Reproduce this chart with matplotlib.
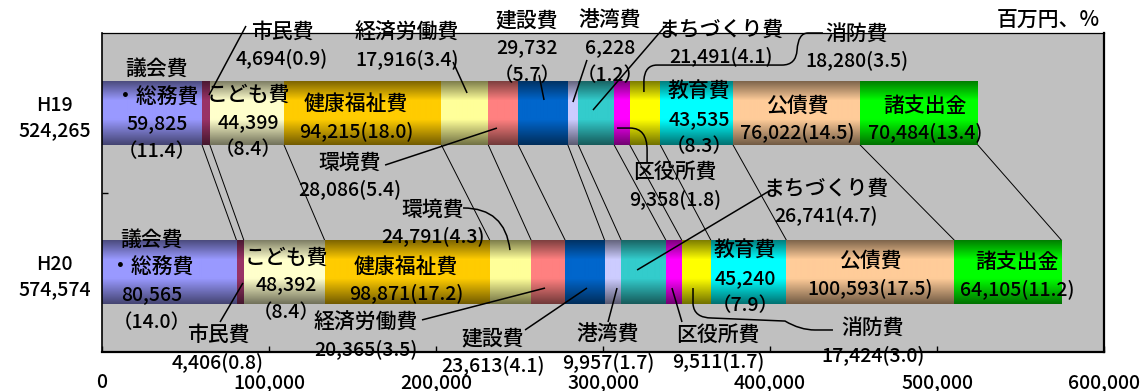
import numpy as np
import matplotlib.pyplot as plt
from matplotlib.path import Path
from matplotlib.patches import PathPatch
from matplotlib.colors import to_rgb

plt.rcParams['font.family'] = ['Noto Sans CJK JP', 'DejaVu Sans']
plt.rcParams['font.size'] = 14
plt.rcParams['font.weight'] = 'medium'

# 費目（左から積み上げる順）
items = ['議会費・総務費', '市民費', 'こども費', '健康福祉費', '環境費', '経済労働費', '建設費',
         '港湾費', 'まちづくり費', '区役所費', '消防費', '教育費', '公債費', '諸支出金']
years = ['H19', 'H20']

# 歳出額（百万円）
h19 = [59825, 4694, 44399, 94215, 28086, 17916, 29732, 6228, 21491, 9358, 18280, 43535, 76022, 70484]
h20 = [80565, 4406, 48392, 98871, 24791, 20365, 23613, 9957, 26741, 9511, 17424, 45240, 100593, 64105]

# 構成比（%）
h19_pct = [11.4, 0.9, 8.4, 18.0, 5.4, 3.4, 5.7, 1.2, 4.1, 1.8, 3.5, 8.3, 14.5, 13.4]
h20_pct = [14.0, 0.8, 8.4, 17.2, 4.3, 3.5, 4.1, 1.7, 4.7, 1.7, 3.0, 7.9, 17.5, 11.2]

colors = ['#9999ff', '#993366', '#ffffcc', '#ffcc00', '#ffff99', '#ff8080', '#0066cc',
          '#ccccff', '#33cccc', '#ff00ff', '#ffff00', '#00ffff', '#ffcc99', '#00ff00']

# ラベル位置 (x, y, 形式)  a: 名称 / 金額(比率)  b: 名称 / 金額 / （比率）
lab19 = {0: (32900, 1.017, 'b'), 1: (107800, 1.422, 'a'), 2: (87700, 0.939, 'b'),
         3: (152100, 0.967, 'a'), 4: (148500, 0.600, 'a'), 5: (182600, 1.415, 'a'),
         6: (254500, 1.406, 'b'), 7: (304200, 1.406, 'b'), 8: (370700, 1.437, 'a'),
         9: (343100, 0.541, 'a'), 10: (452100, 1.409, 'a'), 11: (357500, 0.958, 'b'),
         12: (416200, 0.958, 'a'), 13: (492800, 0.958, 'a')}
lab20 = {0: (29900, -0.055, 'b'), 1: (69500, -0.481, 'a'), 2: (110200, -0.080, 'b'),
         3: (182000, -0.049, 'a'), 4: (198200, 0.306, 'a'), 5: (158100, -0.403, 'a'),
         6: (234100, -0.503, 'a'), 7: (303000, -0.481, 'a'), 8: (433500, 0.440, 'a'),
         9: (368900, -0.478, 'a'), 10: (461700, -0.437, 'a'), 11: (385000, -0.039, 'b'),
         12: (459900, -0.017, 'a'), 13: (547900, -0.024, 'a')}

# 引き出し線 ('M'/'L', 点) または ('Q', 制御点, 終点)
leaders = [
    [('M', (86200, 1.544)), ('L', (64100, 1.111))],
    [('M', (169500, 0.672)), ('L', (236500, 0.904))],
    [('M', (210200, 1.318)), ('L', (218600, 1.124))],
    [('M', (261700, 1.237)), ('L', (264700, 1.080))],
    [('M', (290400, 1.331)), ('L', (282000, 1.067))],
    [('M', (338300, 1.556)), ('L', (294000, 1.017))],
    [('M', (308400, 0.904)), ('L', (316200, 0.904)), ('Q', (326400, 0.904), (326400, 0.766)),
     ('L', (326400, 0.691))],
    [('M', (431700, 1.500)), ('L', (422800, 1.500)), ('Q', (416800, 1.500), (416200, 1.393)),
     ('Q', (415600, 1.299), (407200, 1.299)), ('L', (332300, 1.299)),
     ('Q', (325100, 1.299), (324500, 1.205)), ('L', (324500, 1.130))],
    # H20
    [('M', (70700, -0.312)), ('L', (84400, -0.067))],
    [('M', (216200, 0.403)), ('Q', (241300, 0.403), (244300, 0.139))],
    [('M', (191600, -0.299)), ('L', (265300, -0.099))],
    [('M', (253300, -0.362)), ('L', (290400, -0.099))],
    [('M', (303000, -0.312)), ('L', (308400, -0.099))],
    [('M', (400600, 0.516)), ('L', (320400, 0.014))],
    [('M', (347300, -0.312)), ('L', (341300, -0.099))],
    [('M', (353900, -0.099)), ('L', (353900, -0.199)), ('Q', (354500, -0.287), (365300, -0.287)),
     ('L', (409000, -0.306)), ('Q', (418000, -0.362), (426900, -0.362)), ('L', (437700, -0.362))],
]

H = 0.4          # 棒の太さ
STEP = 19.8      # ラベルの行送り(pt)

fig = plt.figure(figsize=(11.41, 3.91), dpi=100)
ax = fig.add_axes([102 / 1141, 39 / 391, 1002 / 1141, 319 / 391])
ax.set_facecolor('#c0c0c0')

# 上下が暗く中央が明るいグラデーション
t = np.linspace(0, 1, 64)
shade = np.interp(t, [0, 0.3, 0.6, 1], [0.5, 1.0, 1.0, 0.45])

for ypos, vals in zip([1, 0], [h19, h20]):
    left = np.concatenate([[0], np.cumsum(vals)[:-1]])
    bars = ax.barh(ypos, vals, left=left, height=H, color=colors, zorder=2)
    for bar, c in zip(bars, colors):
        img = np.array(to_rgb(c))[None, None, :] * shade[:, None, None]
        x0, y0 = bar.get_x(), bar.get_y()
        im = ax.imshow(img, extent=(x0, x0 + bar.get_width(), y0, y0 + bar.get_height()),
                       aspect='auto', interpolation='bilinear', origin='upper', zorder=2.1)
        im.set_clip_path(bar)

# 区分線（前年度と当年度の境目を結ぶ）
for a, b in zip(np.cumsum(h19), np.cumsum(h20)):
    ax.plot([a, b], [1 - H / 2, H / 2], color='black', lw=0.7, zorder=1.5)


def block(x, y, lines):
    n = len(lines)
    for i, s in enumerate(lines):
        off = ((n - 1) / 2 - i) * STEP
        size = 14 if any(ch.isdigit() for ch in s) else 15
        ax.annotate(s, (x, y), xytext=(0, off), textcoords='offset points', fontsize=size,
                    ha='center', va='center', zorder=6, annotation_clip=False)


for vals, pcts, labs in [(h19, h19_pct, lab19), (h20, h20_pct, lab20)]:
    for i, (x, y, kind) in labs.items():
        name = items[i].replace('・', '\n・').split('\n')
        if kind == 'a':
            lines = name + [f'{vals[i]:,}({pcts[i]:.1f})']
        else:
            lines = name + [f'{vals[i]:,}', f'（{pcts[i]:.1f}）']
        block(x, y, lines)

codes_map = {'M': Path.MOVETO, 'L': Path.LINETO}
for seg in leaders:
    verts, codes = [], []
    for step in seg:
        if step[0] == 'Q':
            verts += [step[1], step[2]]
            codes += [Path.CURVE3, Path.CURVE3]
        else:
            verts.append(step[1])
            codes.append(codes_map[step[0]])
    ax.add_patch(PathPatch(Path(verts, codes), fill=False, lw=1.1, color='black',
                           zorder=5, clip_on=False))

ax.set_xlim(0, 600000)
ax.set_ylim(-0.5, 1.5)
ax.set_xticks(range(0, 600001, 100000))
ax.set_xticklabels([f'{v:,}' for v in range(0, 600001, 100000)])
ax.tick_params(axis='x', direction='in', length=4.5, width=1, pad=15)

totals = [sum(h19), sum(h20)]
ax.set_yticks([1, 0])
ax.set_yticklabels([f'{y}\n{tot:,}' for y, tot in zip(years, totals)])
ax.tick_params(axis='y', which='major', length=0, pad=34)
for lbl in ax.get_yticklabels():
    lbl.set_ha('center')
    lbl.set_multialignment('center')
    lbl.set_linespacing(1.4)
ax.set_yticks([0.5], minor=True)
ax.tick_params(axis='y', which='minor', direction='in', length=4.5, width=1)

for side, lw in [('left', 1.2), ('top', 0.9), ('right', 1.6), ('bottom', 1.6)]:
    ax.spines[side].set_linewidth(lw)

fig.text(1100 / 1141, 1 - 21 / 391, '百万円、%', ha='right', va='center', fontsize=15)

fig.savefig('out.png', dpi=100)
